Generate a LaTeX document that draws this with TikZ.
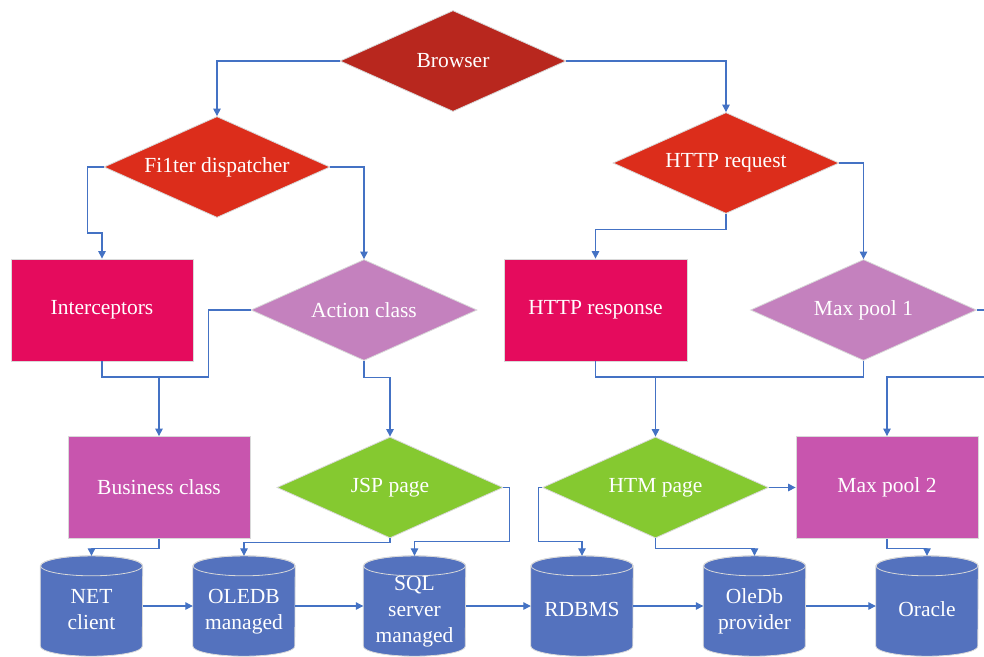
\documentclass[tikz,border=0pt]{standalone}
\usepackage{fontspec}
\setmainfont{Liberation Serif}
\usetikzlibrary{shapes.geometric,arrows.meta,backgrounds}
\definecolor{cBrowser}{HTML}{B8271E}
\definecolor{cRed}{HTML}{DC2D1B}
\definecolor{cCrimson}{HTML}{E50B5D}
\definecolor{cLilac}{HTML}{C481BE}
\definecolor{cMagenta}{HTML}{C855AE}
\definecolor{cGreen}{HTML}{85C930}
\definecolor{cDb}{HTML}{5472BE}
\definecolor{cLine}{HTML}{4472C4}
\definecolor{cEdge}{HTML}{D9D9D9}
\newcommand\dbtext[1]{\raisebox{0pt}[\dimexpr\height+10pt\relax][\depth]{\begin{tabular}{@{}c@{}}#1\end{tabular}}}
\begin{document}
\begin{tikzpicture}[x=1pt,y=-1pt,
  font=\fontsize{21.5}{26}\selectfont,
  base/.style={draw=cEdge, line width=0.8pt, text=white, inner sep=0pt},
  dia/.style={base, diamond, aspect=2.26, minimum width=226pt, minimum height=101pt},
  box/.style={base, rectangle, minimum width=182pt, minimum height=102pt},
  db/.style={rectangle, inner sep=0pt, minimum width=102pt, minimum height=100pt, text=white},
  conn/.style={draw=cLine, line width=1.1pt},
  arr/.style={conn, -{Triangle[width=7.5pt,length=7.5pt]}}]
\useasboundingbox (0,0) rectangle (984,656);

% decision and process nodes
\node[dia, fill=cBrowser] (br) at (453,61) {Browser};
\node[dia, fill=cRed] (fd) at (217,167) {Fi1ter dispatcher};
\node[dia, fill=cRed] (req) at (726,163) {HTTP request};
\node[box, fill=cCrimson] (int) at (102,310) {Interceptors};
\node[dia, fill=cLilac] (act) at (364,310) {Action class};
\node[box, fill=cCrimson, minimum width=183pt] (resp) at (595.5,310) {HTTP response};
\node[dia, fill=cLilac] (mp1) at (863.5,310) {Max pool 1};
\node[box, fill=cMagenta] (bus) at (159,487.5) {Business class};
\node[dia, fill=cGreen] (jsp) at (390,487.5) {JSP page};
\node[dia, fill=cGreen] (htm) at (655.5,487.5) {HTM page};
\node[box, fill=cMagenta] (mp2) at (887,487.5) {Max pool 2};

% databases
\node[db] (net) at (91.5,606) {\dbtext{NET\\client}};
\node[db] (ole) at (244,606) {\dbtext{OLEDB\\managed}};
\node[db] (sql) at (414.5,606) {\dbtext{SQL\\server\\managed}};
\node[db] (rdb) at (582,606) {\dbtext{RDBMS}};
\node[db] (prov) at (754.5,606) {\dbtext{OleDb\\provider}};
\node[db] (orc) at (927,606) {\dbtext{Oracle}};

\begin{scope}[on background layer]
\foreach \n in {net,ole,sql,rdb,prov,orc}{
  \filldraw[fill=cDb, draw=cEdge, line width=0.8pt]
    ([yshift=-10pt]\n.north west) -- ([yshift=10pt]\n.south west)
    arc[start angle=180,end angle=360,x radius=51pt,y radius=10pt]
    -- ([yshift=-10pt]\n.north east)
    arc[start angle=0,end angle=180,x radius=51pt,y radius=10pt] -- cycle;
  \draw[cEdge, line width=0.8pt] ([yshift=-10pt]\n.north) ellipse[x radius=51pt, y radius=10pt];
}
\end{scope}

% junctions and free ends
\coordinate (j1) at (159,377);
\coordinate (j2) at (655.5,377);
\coordinate (e1) at (984,310);
\coordinate (e2) at (984,377);

% connectors
\draw[arr] (br.west) -| (fd.north);
\draw[arr] (br.east) -| (req.north);
\draw[arr] (fd.west) -- ++(-16,0) -- ++(0,66) -| (int.north);
\draw[arr] (fd.east) -| (act.north);
\draw[arr] (req.south) -- ++(0,16) -| (resp.north);
\draw[arr] (req.east) -| (mp1.north);

\draw[conn] (int.south) |- (j1);
\draw[conn] (act.west) -- ++(-42,0) |- (j1);
\draw[arr] (j1) -- (bus.north);
\draw[arr] (act.south) -- ++(0,17) -| (jsp.north);

\draw[conn] (resp.south) |- (j2);
\draw[conn] (mp1.south) |- (j2);
\draw[arr] (j2) -- (htm.north);
\draw[conn] (mp1.east) -- (e1);
\draw[arr] (e2) -| (mp2.north);

\draw[arr] (bus.south) -- ++(0,10) -| (net.north);
\draw[arr] (jsp.south) -- ++(0,4) -| (ole.north);
\draw[arr] (jsp.east) -- ++(6,0) -- ++(0,54) -| (sql.north);
\draw[arr] (htm.west) -- ++(-4,0) -- ++(0,54) -| (rdb.north);
\draw[arr] (htm.south) -- ++(0,10) -| (prov.north);
\draw[arr] (htm.east) -- (mp2.west);
\draw[arr] (mp2.south) -- ++(0,10) -| (orc.north);

\draw[arr] (net.east) -- (ole.west);
\draw[arr] (ole.east) -- (sql.west);
\draw[arr] (sql.east) -- (rdb.west);
\draw[arr] (rdb.east) -- (prov.west);
\draw[arr] (prov.east) -- (orc.west);
\end{tikzpicture}
\end{document}
